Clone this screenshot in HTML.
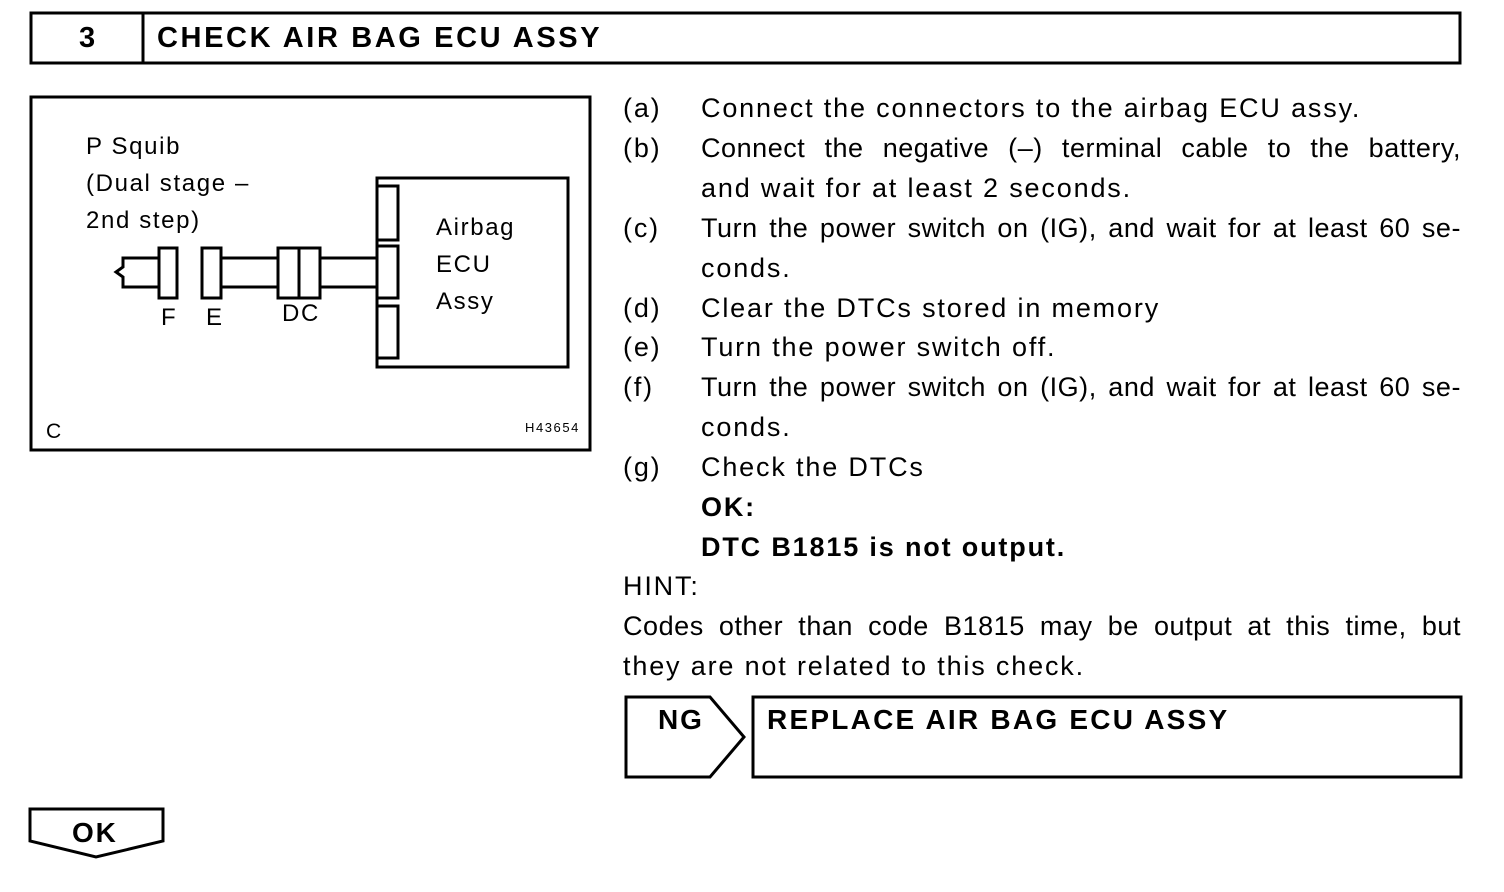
<!DOCTYPE html>
<html><head><meta charset="utf-8"><style>
html,body{margin:0;padding:0;background:#fff}
body{width:1504px;height:892px;position:relative;overflow:hidden;font-family:"Liberation Sans",Arial,sans-serif;color:#000}
.t{position:absolute;font-size:27px;line-height:40px;white-space:nowrap;letter-spacing:0.068em}
.l{left:623px}
.x{left:701px}
.j{width:760px;white-space:nowrap;text-align:justify;text-align-last:justify;letter-spacing:0.02em}
.jh{left:623px;width:838px;white-space:nowrap;text-align:justify;text-align-last:justify;letter-spacing:0.02em}
b{font-weight:bold}
</style></head><body>
<svg width="1504" height="892" style="position:absolute;left:0;top:0" fill="none" stroke="#000">
<rect x="31" y="13" width="1429" height="50" stroke-width="3"/>
<line x1="143" y1="13" x2="143" y2="63" stroke-width="3"/>
<rect x="31" y="97" width="559" height="353" stroke-width="3"/>
<rect x="377" y="178" width="191" height="189" stroke-width="3"/>
<rect x="377" y="186" width="21" height="54" stroke-width="3"/>
<rect x="377" y="246" width="21" height="52" stroke-width="3"/>
<rect x="377" y="306" width="21" height="52" stroke-width="3"/>
<rect x="159" y="248" width="18" height="50" stroke-width="3"/>
<rect x="202" y="248" width="19" height="50" stroke-width="3"/>
<rect x="278" y="248" width="42" height="50" stroke-width="3"/>
<line x1="299" y1="248" x2="299" y2="298" stroke-width="3"/>
<path d="M221 258H278M221 287H278M320 258H377M320 287H377" stroke-width="3"/>
<path d="M159 258H123V267L116 272L123 277V287H159" stroke-width="3"/>
<path d="M626 697H710L744 737L710 777H626Z" stroke-width="3"/>
<rect x="753" y="697" width="708" height="80" stroke-width="3"/>
<path d="M30 809H163V841L96 857L30 841Z" stroke-width="3"/>
</svg>
<div class="t" style="left:79px;top:18px;font-size:29px;font-weight:bold">3</div>
<div class="t" style="left:157px;top:18px;font-size:29px;font-weight:bold;letter-spacing:0.09em">CHECK AIR BAG ECU ASSY</div>
<div class="t" style="left:86px;top:128px;font-size:24px;line-height:37px">P Squib<br>(Dual stage –<br>2nd step)</div>
<div class="t" style="left:436px;top:209px;font-size:24px;line-height:37px">Airbag<br>ECU<br>Assy</div>
<div class="t" style="left:161px;top:298px;font-size:24px">F</div>
<div class="t" style="left:206px;top:298px;font-size:24px">E</div>
<div class="t" style="left:282px;top:294px;font-size:24px">DC</div>
<div class="t" style="left:46px;top:412px;font-size:21px">C</div>
<div class="t" style="left:525px;top:418px;font-size:13px;line-height:20px;letter-spacing:0.12em">H43654</div>

<div class="t l" style="top:88px">(a)</div><div class="t x" style="top:88px">Connect the connectors to the airbag ECU assy.</div>
<div class="t l" style="top:128px">(b)</div><div class="t x j" style="top:128px">Connect the negative (–) terminal cable to the battery,</div>
<div class="t x" style="top:168px">and wait for at least 2 seconds.</div>
<div class="t l" style="top:208px">(c)</div><div class="t x j" style="top:208px">Turn the power switch on (IG), and wait for at least 60 se-</div>
<div class="t x" style="top:248px">conds.</div>
<div class="t l" style="top:288px">(d)</div><div class="t x" style="top:288px">Clear the DTCs stored in memory</div>
<div class="t l" style="top:327px">(e)</div><div class="t x" style="top:327px">Turn the power switch off.</div>
<div class="t l" style="top:367px">(f)</div><div class="t x j" style="top:367px">Turn the power switch on (IG), and wait for at least 60 se-</div>
<div class="t x" style="top:407px">conds.</div>
<div class="t l" style="top:447px">(g)</div><div class="t x" style="top:447px">Check the DTCs<br><b>OK:</b><br><b>DTC B1815 is not output.</b></div>
<div class="t l" style="top:566px">HINT:</div>
<div class="t jh" style="top:606px">Codes other than code B1815 may be output at this time, but</div>
<div class="t l" style="top:646px">they are not related to this check.</div>
<div class="t" style="left:658px;top:700px;font-weight:bold;font-size:28px">NG</div>
<div class="t" style="left:767px;top:700px;font-weight:bold;font-size:28px;letter-spacing:0.08em">REPLACE AIR BAG ECU ASSY</div>
<div class="t" style="left:72px;top:813px;font-weight:bold;font-size:28px;line-height:40px">OK</div>
</body></html>
